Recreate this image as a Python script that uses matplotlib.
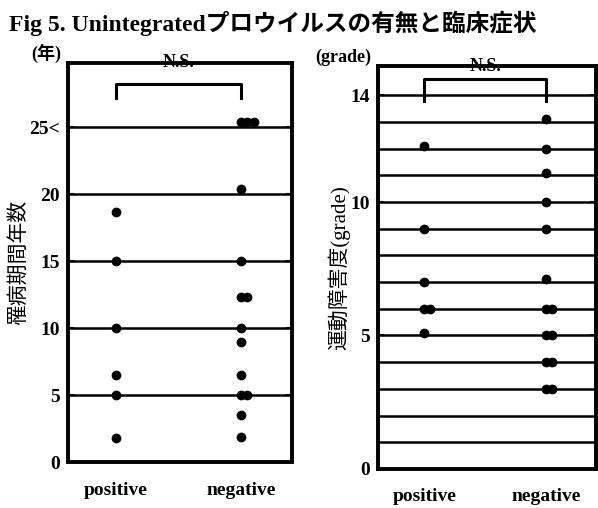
import matplotlib.pyplot as plt
from collections import Counter

plt.rcParams['font.family'] = ['Liberation Serif', 'Noto Sans CJK JP']
plt.rcParams['font.weight'] = 'bold'

groups = ['positive', 'negative']

# 罹病期間 (年)
years_pos = [18.7, 15, 10, 6.5, 5, 1.8]
years_neg = [25.4, 25.4, 25.4, 20.4, 15, 12.3, 12.3, 10, 9, 6.5, 5, 5, 3.5, 1.9]
years_ticks = [0, 5, 10, 15, 20, 25]
years_ticklabels = ['0', '5', '10', '15', '20', '25<']

# 運動障害度 (grade)
grade_pos = [12.1, 9, 7, 6, 6, 5.1]
grade_neg = [13.1, 12, 11.1, 10, 9, 7.1, 6, 6, 5, 5, 4, 4, 3, 3]
grade_ticks = [0, 5, 10, 14]


def dots(ax, xpos, values):
    # repeated values are drawn side by side
    seen = Counter()
    xs = []
    for v in values:
        xs.append(xpos + seen[v] * 0.05)
        seen[v] += 1
    ax.plot(xs, values, 'o', color='black', markersize=6, zorder=3)


def panel(ax, pos, neg, ymax, lines, ticks, ticklabels, bracket, unit):
    ax.set_xlim(0.62, 2.41)
    ax.set_ylim(0, ymax)
    for y in lines:
        ax.axhline(y, color='black', lw=1.8, zorder=1)
    dots(ax, 1, pos)
    dots(ax, 2, neg)
    for s in ax.spines.values():
        s.set_linewidth(2.8)
    ax.set_xticks([1, 2])
    ax.set_xticklabels(groups, fontsize=14)
    ax.tick_params(axis='x', length=0, pad=14)
    ax.set_yticks(ticks)
    ax.set_yticklabels(ticklabels, fontsize=14)
    ax.tick_params(axis='y', direction='in', length=4, width=1.5, pad=6, right=True)
    lo, hi = bracket
    ax.plot([1, 1, 2, 2], [lo, hi, hi, lo], color='black', lw=2.2, clip_on=False)
    ax.text(1.5, ymax, 'N.S.', ha='center', va='center', fontsize=13)
    ax.text(-0.03, 1.0, unit, transform=ax.transAxes, ha='right', va='bottom',
            fontsize=13)


fig = plt.figure(figsize=(5.98, 5.08), dpi=100)
fig.text(0.015, 0.955, 'Fig 5. Unintegratedプロウイルスの有無と臨床症状',
         fontsize=17, va='center', ha='left')

ax1 = fig.add_axes([0.114, 0.09, 0.375, 0.786])
panel(ax1, years_pos, years_neg, 29.8, [5, 10, 15, 20, 25],
      years_ticks, years_ticklabels, (27.2, 28.2), '(年)')
ax1.set_ylabel('罹病期間年数', fontsize=15, labelpad=0)

ax2 = fig.add_axes([0.632, 0.077, 0.365, 0.793])
panel(ax2, grade_pos, grade_neg, 15.1, list(range(1, 15)),
      grade_ticks, [str(t) for t in grade_ticks], (13.8, 14.6), '(grade)')
ax2.set_ylabel('運動障害度(grade)', fontsize=15, labelpad=0)

fig.savefig('out.png', dpi=100)
